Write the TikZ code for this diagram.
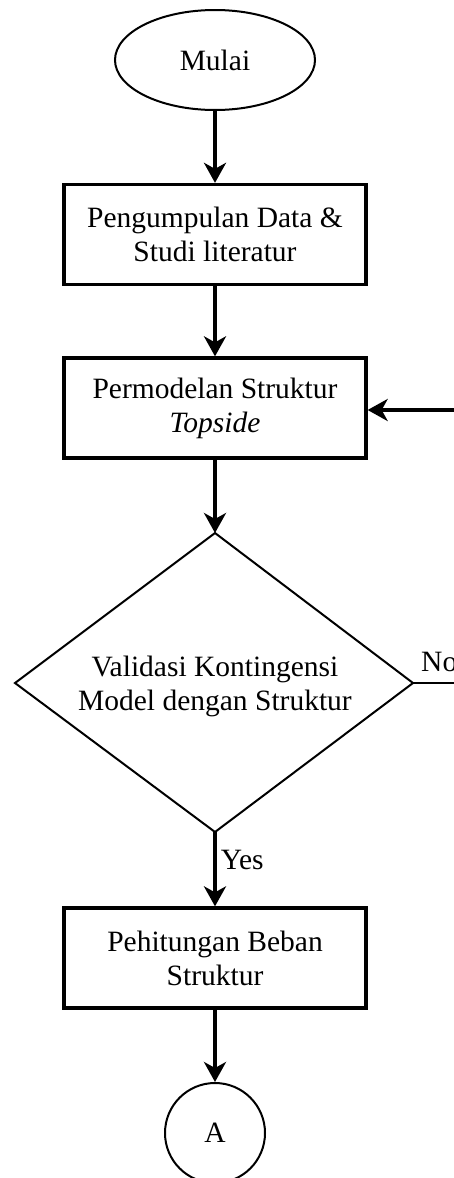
\documentclass[tikz,border=0pt]{standalone}
\usepackage{fontspec}
\setmainfont{Liberation Serif}
\usetikzlibrary{shapes.geometric,arrows.meta}
\begin{document}
\begin{tikzpicture}[x=1pt,y=1pt,
  every node/.style={font=\fontsize{29.5}{34}\selectfont, align=center, inner sep=0pt},
  procbox/.style={draw, line width=3.3pt, rectangle, minimum width=302pt, minimum height=100pt},
  term/.style={draw, line width=2pt, ellipse, minimum width=200pt, minimum height=100pt},
  decisionline/.style={line width=2pt, line join=miter},
  conn/.style={draw, line width=2pt, circle, minimum size=100pt},
  flow/.style={line width=3.5pt, -{Stealth[length=20pt,width=22pt,inset=6pt]}},
  thinline/.style={line width=2.5pt}
]
\useasboundingbox[fill=white] (0,0) rectangle (454,-1178);
\node[term] (start) at (215,-60) {Mulai};
\node[procbox] (b1) at (215,-234.5) {Pengumpulan Data \&\\Studi literatur};
\node[procbox] (b2) at (215,-408) {Permodelan Struktur\\\textit{Topside}};
\coordinate (dt) at (215,-533);
\coordinate (dr) at (413,-683);
\coordinate (db) at (215,-832);
\coordinate (dl) at (15,-683);
\draw[decisionline] (dt) -- (dr) -- (db) -- (dl) -- cycle;
\node (d) at (215,-686) {Validasi Kontingensi\\Model dengan Struktur};
\node[procbox] (b3) at (215,-958) {Pehitungan Beban\\Struktur};
\node[conn] (a) at (215,-1133) {A};
\coordinate (rin) at (460,-410);
\coordinate (rout) at (460,-683);
\draw[flow] (start) -- (b1);
\draw[flow] (b1) -- (b2);
\draw[flow] (b2) -- (dt);
\draw[flow] (db) -- node[pos=0.38, anchor=west, xshift=4pt] (yes) {Yes} (b3);
\draw[flow] (b3) -- (a);
\draw[thinline] (dr) -- (rout);
\node[anchor=base west] (no) at (421,-671) {No};
\draw[flow] (rin) -- (b2.east |- rin);
\end{tikzpicture}
\end{document}
